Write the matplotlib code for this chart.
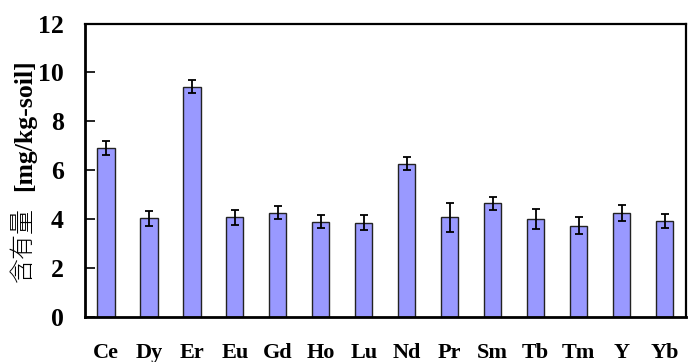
import matplotlib
matplotlib.use("Agg")
import matplotlib.pyplot as plt

elements = ["Ce", "Dy", "Er", "Eu", "Gd", "Ho", "Lu", "Nd", "Pr", "Sm", "Tb", "Tm", "Y", "Yb"]
content = [6.91, 4.03, 9.42, 4.07, 4.27, 3.89, 3.86, 6.27, 4.08, 4.65, 4.01, 3.74, 4.26, 3.92]
errors = [0.28, 0.30, 0.25, 0.30, 0.27, 0.27, 0.31, 0.27, 0.60, 0.26, 0.40, 0.33, 0.32, 0.30]
yticks = [0, 2, 4, 6, 8, 10, 12]

serif = "Liberation Serif"

fig = plt.figure(figsize=(6.88, 3.62), dpi=100)
ax = fig.add_axes([84.5 / 688, 1 - 317 / 362, (686 - 84.5) / 688, (317 - 23.5) / 362])

x = list(range(len(elements)))
ax.bar(x, content, width=0.4, color="#9999FF", edgecolor="#222222", linewidth=1.0, zorder=2)
ax.errorbar(x, content, yerr=errors, fmt="none", ecolor="black", elinewidth=1.3,
            capsize=2.7, capthick=1.3, zorder=3)

ax.set_xlim(-0.5, len(elements) - 0.5)
ax.set_ylim(0, 12)
ax.set_yticks(yticks)
ax.set_yticklabels([str(v) for v in yticks], fontfamily=serif, fontweight="bold", fontsize=18.5)
ax.set_xticks(x)
ax.set_xticklabels(elements, fontfamily=serif, fontweight="bold", fontsize=16)
ax.tick_params(axis="y", direction="in", length=7, width=1.2, pad=15)
ax.tick_params(axis="x", length=0, pad=19)
for s in ax.spines.values():
    s.set_linewidth(1.6)
    s.set_color("black")
ax.spines["left"].set_linewidth(2.0)
ax.spines["bottom"].set_linewidth(2.0)

# y-axis label: CJK part in a CJK face, unit part in bold serif
fig.text(23 / 688, 1 - 245 / 362, "含有量", rotation=90, ha="center", va="center",
         fontfamily="Noto Sans CJK JP", fontsize=18, fontweight="light")
fig.text(25 / 688, 1 - 125 / 362, "[mg/kg-soil]", rotation=90, ha="center", va="center",
         fontfamily=serif, fontweight="bold", fontsize=18.5)

fig.savefig("out.png", dpi=100)
